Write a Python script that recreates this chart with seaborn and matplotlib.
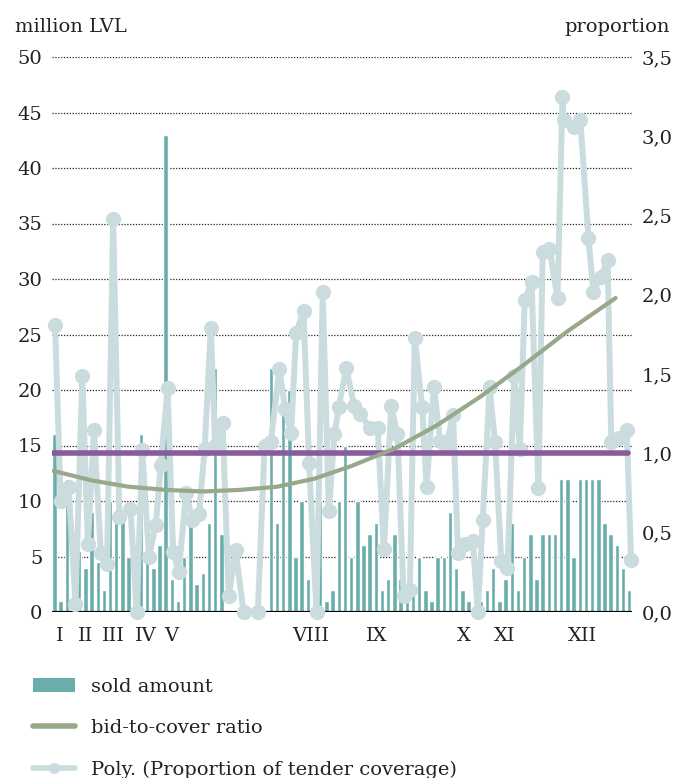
import numpy as np
import seaborn as sns
import matplotlib.pyplot as plt
from matplotlib.patches import Patch
from matplotlib.lines import Line2D

# sold amount per auction, million LVL (one bar per auction slot)
sold = [16, 1, 12, 3, 5.5, 4, 9, 4.5, 2, 10, 8, 8.5, 5, 6, 16, 5, 4, 6, 43, 3,
        1, 5, 8, 2.5, 3.5, 8, 22, 7,
        0, 0, 0, 0, 0, 0, 0,
        22, 8, 18, 20, 5, 10, 3, 0, 10, 1, 2, 10, 15, 5, 10, 6, 7, 8, 2, 3,
        7, 3, 2, 2, 5, 2, 1, 5, 5, 9, 4, 2, 1, 0, 1, 2, 4, 1, 3, 8, 2, 5,
        7, 3, 7, 7, 7, 12, 12, 5, 12, 12, 12, 12, 8, 7, 6, 4, 2]

# proportion of tender coverage (right axis)
cover_x = [0.1, 1.0, 2.3, 3.4, 4.5, 5.4, 6.4, 7.5, 8.5, 9.5, 10.5, 12.3, 13.3,
           14.2, 15.3, 16.4, 17.2, 18.3, 19.2, 20.1, 21.3, 22.3, 23.4, 24.3,
           25.3, 26.0, 27.2, 28.2, 29.3, 30.6, 32.9, 34.0, 35.0, 36.4, 37.3,
           38.3, 39.1, 40.3, 41.2, 42.4, 43.4, 44.4, 45.3, 46.0, 47.2, 48.5,
           49.5, 51.0, 52.3, 53.3, 54.5, 55.5, 56.5, 57.5, 58.3, 59.5, 60.2,
           61.4, 62.4, 63.3, 64.5, 65.3, 66.5, 67.7, 68.5, 69.3, 70.4, 71.3,
           72.3, 73.3, 74.4, 75.3, 76.1, 77.2, 78.3, 79.0, 80.1, 81.4, 82.2,
           82.4, 84.0, 85.1, 86.4, 87.2, 88.4, 89.5, 90.1, 91.4, 92.6, 93.3]
cover_y = [1.81, 0.70, 0.79, 0.05, 1.49, 0.43, 1.15, 0.37, 0.30, 2.48, 0.60, 0.65, 0.00,
           1.02, 0.35, 0.55, 0.93, 1.41, 0.38, 0.25, 0.75, 0.58, 0.62, 1.03,
           1.79, 1.05, 1.19, 0.10, 0.39, 0.00, 0.00, 1.05, 1.07, 1.53, 1.28,
           1.13, 1.76, 1.90, 0.94, 0.00, 2.02, 0.64, 1.12, 1.29, 1.54, 1.30,
           1.25, 1.16, 1.16, 0.40, 1.30, 1.12, 0.10, 0.14, 1.73, 1.29, 0.79,
           1.42, 1.08, 1.04, 1.24, 0.37, 0.43, 0.45, 0.00, 0.58, 1.42, 1.07,
           0.32, 0.28, 1.49, 1.03, 1.97, 2.08, 0.78, 2.27, 2.29, 1.98, 3.25,
           3.10, 3.06, 3.10, 2.36, 2.02, 2.11, 2.22, 1.07, 1.10, 1.15, 0.33]

# trend curve
trend_x = [-0.2, 6, 12, 18, 24, 30, 36, 42, 48, 55, 62, 69, 76, 83, 90.8]
trend_y = [0.89, 0.83, 0.79, 0.77, 0.76, 0.77, 0.79, 0.84, 0.92, 1.03, 1.18, 1.36, 1.56, 1.77, 1.98]

cover_level = 1.0

months = ['I', 'II', 'III', 'IV', 'V', 'VIII', 'IX', 'X', 'XI', 'XII']
month_pos = [0.9, 5.0, 9.5, 14.8, 18.9, 41.4, 52.2, 66.3, 72.9, 85.4]

left_ticks = list(range(0, 55, 5))
right_ticks = [0, 0.5, 1.0, 1.5, 2.0, 2.5, 3.0, 3.5]

teal = '#6aaeac'
light = '#cbdcdf'
purple = '#8a5a9e'
green = '#98a88a'

sns.set_theme(style='white')
plt.rcParams['font.family'] = ['DejaVu Serif']

fig = plt.figure(figsize=(6.76, 7.78), dpi=100)
ax = fig.add_axes([52 / 676, 1 - 612 / 778, 580 / 676, 555 / 778])

sns.barplot(x=np.arange(len(sold)), y=sold, color=teal, saturation=1,
            width=0.72, ax=ax, zorder=2)
ax.set_xlim(-0.4, 93.45)
ax.set_ylim(0, 50)
ax.set_yticks(left_ticks)
ax.set_yticklabels([str(t) for t in left_ticks])
ax.yaxis.grid(True, linestyle=(0, (1, 1.3)), color='#222222', linewidth=0.9)
ax.set_axisbelow(True)
ax.axhline(0, color='black', linewidth=2.3, zorder=3)
ax.set_xticks(month_pos)
ax.set_xticklabels(months)
ax.tick_params(axis='both', length=0, labelsize=14, colors='#222222')
ax.tick_params(axis='x', pad=11)
ax.tick_params(axis='y', pad=7)
ax.set_xlabel('')
ax.set_ylabel('')

ax2 = ax.twinx()
sns.lineplot(x=cover_x, y=cover_y, ax=ax2, color=light, linewidth=4.3,
             marker='o', markersize=11, markeredgewidth=0, clip_on=False,
             errorbar=None, zorder=4)
ax2.axhline(cover_level, xmin=0, xmax=0.993, color=purple, linewidth=4, zorder=5)
sns.lineplot(x=trend_x, y=trend_y, ax=ax2, color=green, linewidth=3,
             errorbar=None, zorder=6)
ax2.set_ylim(0, 3.5)
ax2.set_xlim(-0.4, 93.45)
ax2.set_yticks(right_ticks)
ax2.set_yticklabels([f'{t:.1f}'.replace('.', ',') for t in right_ticks])
ax2.tick_params(axis='y', length=0, labelsize=14, pad=7, colors='#222222')
ax2.set_ylabel('')
ax2.grid(False)

for a in (ax, ax2):
    for s in a.spines.values():
        s.set_visible(False)

fig.text(15 / 676, 1 - 27 / 778, 'million LVL', ha='left', va='center',
         fontsize=14, color='#222222')
fig.text(670 / 676, 1 - 27 / 778, 'proportion', ha='right', va='center',
         fontsize=14, color='#222222')

handles = [Patch(facecolor=teal, edgecolor='none'),
           Line2D([], [], color=green, linewidth=4),
           Line2D([], [], color=light, linewidth=4, marker='o', markersize=8,
                  markeredgewidth=0)]
labels = ['sold amount', 'bid-to-cover ratio', 'Poly. (Proportion of tender coverage)']
fig.legend(handles, labels, loc='upper left', bbox_to_anchor=(33 / 676, 1 - 678 / 778),
           frameon=False, fontsize=14, handlelength=2.15, handleheight=0.75,
           handletextpad=0.85, labelspacing=1.2, borderaxespad=0, borderpad=0,
           labelcolor='#222222')

fig.savefig('out.png', dpi=100)
